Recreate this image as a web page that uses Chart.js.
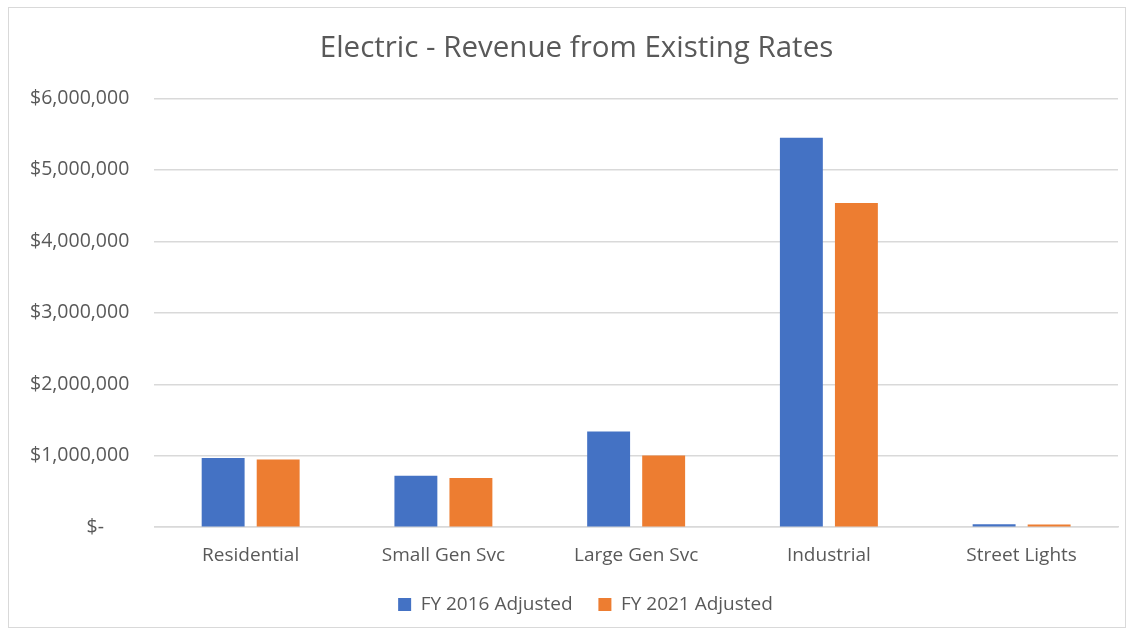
<!DOCTYPE html>
<html>
<head>
<meta charset="utf-8">
<script src="https://cdn.jsdelivr.net/npm/chart.js@4"></script>
<style>
    html, body { margin: 0; padding: 0; background: #ffffff; }
    #wrap { position: relative; width: 1132px; height: 634px; }
    #frame {
        position: absolute; left: 8px; top: 7px; width: 1116px; height: 619px;
        border: 1.5px solid #d9d9d9; pointer-events: none;
    }
</style>
</head>
<body>
<div id="wrap">
    <canvas id="revenueChart" width="1132" height="634"></canvas>
    <div id="frame"></div>
</div>
<script>
// Revenue classes and values
const categories = ['Residential', 'Small Gen Svc', 'Large Gen Svc', 'Industrial', 'Street Lights'];
const fy2016 = [967000, 721000, 1340000, 5450000, 40000];
const fy2021 = [949000, 688000, 1005000, 4535000, 38000];
const seriesNames = ['FY 2016 Adjusted', 'FY 2021 Adjusted'];

const TEXT_COLOR = '#595959';
const FONT = '"Open Sans", sans-serif';

/**
 * Accounting style money label, zero shows as "$-"
 */
function money(value) {
    if (value === 0) return '$-     ';
    return '$' + value.toLocaleString('en-US');
}

/**
 * Excel centres title and legend a bit right of the canvas middle
 */
const nudgeBoxes = {
    id: 'nudgeBoxes',
    afterLayout(chart) {
        if (chart.titleBlock) {
            chart.titleBlock.left += 15;
            chart.titleBlock.right += 15;
        }
        if (chart.legend) {
            chart.legend.left += 24;
            chart.legend.right += 24;
        }
    }
};

const ctx = document.getElementById('revenueChart');

new Chart(ctx, {
    type: 'bar',
    data: {
        labels: categories,
        datasets: [
            {
                label: seriesNames[0],
                data: fy2016,
                backgroundColor: '#4472C4',
                borderWidth: 0
            },
            {
                label: seriesNames[1],
                data: fy2021,
                backgroundColor: '#ED7D31',
                borderWidth: 0
            }
        ]
    },
    plugins: [nudgeBoxes],
    options: {
        responsive: false,
        animation: false,
        devicePixelRatio: 1,
        categoryPercentage: 0.571,
        barPercentage: 0.78,
        layout: {
            padding: { left: 5, right: 14, top: 31, bottom: 10 }
        },
        plugins: {
            title: {
                display: true,
                text: 'Electric - Revenue from Existing Rates',
                color: TEXT_COLOR,
                font: { family: FONT, size: 29.5, weight: 'normal' },
                padding: { top: 0, bottom: 32 }
            },
            legend: {
                position: 'bottom',
                labels: {
                    color: TEXT_COLOR,
                    font: { family: FONT, size: 19 },
                    boxWidth: 13,
                    boxHeight: 13,
                    padding: 11,
                    generateLabels(chart) {
                        // a little more room between the two entries, as in Excel
                        const items = Chart.defaults.plugins.legend.labels.generateLabels(chart);
                        items.forEach((item, i) => {
                            if (i < items.length - 1) item.text += '   ';
                        });
                        return items;
                    }
                }
            },
            tooltip: { enabled: false }
        },
        scales: {
            x: {
                grid: { display: false, drawTicks: false },
                border: { display: true, color: '#d9d9d9', width: 1.5 },
                ticks: {
                    color: TEXT_COLOR,
                    font: { family: FONT, size: 19 },
                    padding: 17
                }
            },
            y: {
                min: 0,
                max: 6000000,
                grid: { color: '#d9d9d9', lineWidth: 1.5, drawTicks: false },
                border: { display: false },
                ticks: {
                    stepSize: 1000000,
                    color: TEXT_COLOR,
                    font: { family: FONT, size: 19.5 },
                    padding: 25,
                    callback: value => money(value)
                }
            }
        }
    }
});
</script>
</body>
</html>
